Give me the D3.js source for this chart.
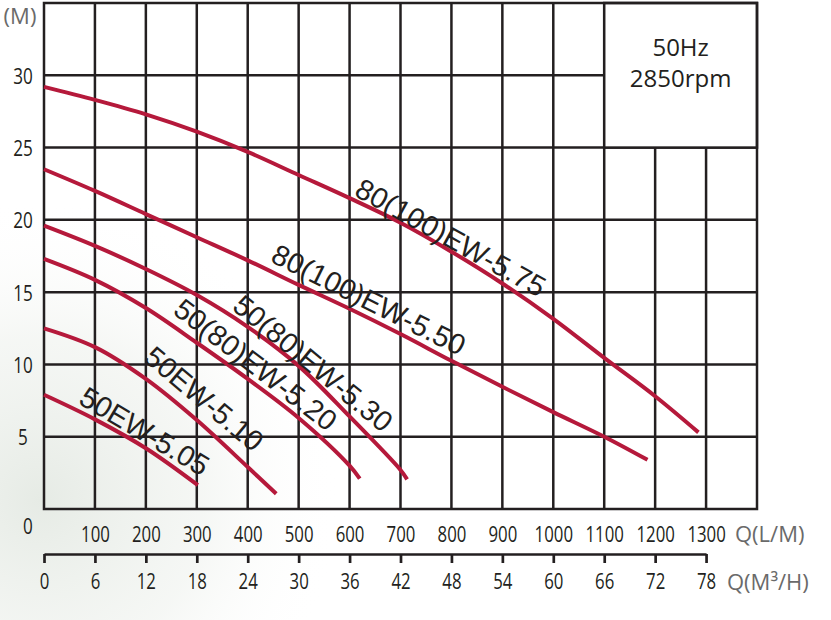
<!DOCTYPE html>
<html><head><meta charset="utf-8">
<script src="https://cdn.jsdelivr.net/npm/d3@7"></script>
<style>
html,body{margin:0;padding:0;background:#fff;}
svg{display:block;}
</style></head><body>
<svg id="chart" width="831" height="620"></svg>
<script>
// ---------- data ----------
const models = ["80(100)EW-5.75","80(100)EW-5.50","50(80)EW-5.30","50(80)EW-5.20","50EW-5.10","50EW-5.05"];
const flow575 = [0,100,200,300,400,500,600,700,800,900,1000,1100,1200,1285];
const head575 = [29.2,28.3,27.3,26.1,24.7,23.1,21.5,19.8,17.8,15.6,13.15,10.45,7.8,5.3];
const flow550 = [0,100,200,300,400,500,600,700,800,900,1000,1100,1185];
const head550 = [23.5,22.0,20.4,18.8,17.2,15.5,13.85,12.1,10.25,8.45,6.7,5.0,3.4];
const flow530 = [0,100,200,300,400,500,600,700,713];
const head530 = [19.6,18.2,16.6,14.8,12.6,9.9,6.4,2.7,2.05];
const flow520 = [0,100,200,300,400,500,600,620];
const head520 = [17.3,15.85,13.9,11.5,9.0,6.3,3.0,2.1];
const flow510 = [0,100,200,300,400,456];
const head510 = [12.5,11.2,9.0,6.15,2.9,1.05];
const flow505 = [0,100,200,302];
const head505 = [7.9,6.2,4.2,1.65];
const labelQ = [799,638,529,416,315,198];
const labelH = [18.8,14.5,10.1,10.0,7.65,5.4];
const labelAngle = [29,26.5,39.5,37.5,40,30.7];
const flowTicksLM = [100,200,300,400,500,600,700,800,900,1000,1100,1200,1300];
const flowTicksM3H = [0,6,12,18,24,30,36,42,48,54,60,66,72,78];
const headTicks = [5,10,15,20,25,30];
const gridQ = [100,200,300,400,500,600,700,800,900,1000,1100,1200,1300];
const gridH = [5,10,15,20,25,30];
const legendLines = ["50Hz","2850rpm"];
const unitHead = "(M)";
const unitLM = "Q(L/M)";
const unitM3H = "Q(M³/H)";

const flows = [flow575,flow550,flow530,flow520,flow510,flow505];
const heads = [head575,head550,head530,head520,head510,head505];
const series = models.map((m,i)=>({name:m, pts: flows[i].map((q,j)=>[q,heads[i][j]]), lq:labelQ[i], lh:labelH[i], ang:labelAngle[i]}));

// ---------- layout ----------
const ink = "#231f20", grey = "#6a6a6a", red = "#b5193b";
const svg = d3.select("#chart");
const x = d3.scaleLinear().domain([0,1400]).range([44,757]);
const y = d3.scaleLinear().domain([0,35]).range([509,3]);
const x2 = d3.scaleLinear().domain([0,78]).range([x(0), x(1300)]);

// background haze
const defs = svg.append("defs");
const rg = defs.append("radialGradient").attr("id","haze").attr("gradientUnits","userSpaceOnUse")
  .attr("cx",40).attr("cy",500).attr("r",300);
rg.append("stop").attr("offset","0%").attr("stop-color","#e6ebe5").attr("stop-opacity",1);
rg.append("stop").attr("offset","55%").attr("stop-color","#eff2ee").attr("stop-opacity",0.6);
rg.append("stop").attr("offset","100%").attr("stop-color","#ffffff").attr("stop-opacity",0);
svg.append("rect").attr("width",831).attr("height",620).attr("fill","#fff");
svg.append("rect").attr("width",831).attr("height",620).attr("fill","url(#haze)");

// grid
const g = svg.append("g");
g.selectAll("line.v").data(gridQ).join("line").attr("class","v")
  .attr("x1",d=>x(d)).attr("x2",d=>x(d)).attr("y1",y(0)).attr("y2",y(35))
  .attr("stroke",ink).attr("stroke-width",2.5);
g.selectAll("line.h").data(gridH).join("line").attr("class","h")
  .attr("y1",d=>y(d)).attr("y2",d=>y(d)).attr("x1",x(0)).attr("x2",x(1400))
  .attr("stroke",ink).attr("stroke-width",2.5);
// legend box
g.append("rect").attr("x",x(1100)).attr("y",y(35)).attr("width",x(1400)-x(1100)).attr("height",y(25)-y(35))
  .attr("fill","#fff").attr("stroke",ink).attr("stroke-width",2.5);
// border
g.append("rect").attr("x",x(0)).attr("y",y(35)).attr("width",x(1400)-x(0)).attr("height",y(0)-y(35))
  .attr("fill","none").attr("stroke",ink).attr("stroke-width",2.5);

// legend text
svg.append("g").selectAll("text").data(legendLines).join("text")
  .attr("x",(x(1100)+x(1400))/2).attr("y",(d,i)=>y(31.3)+i*31)
  .attr("text-anchor","middle").attr("font-family","'Open Sans', 'Noto Sans', sans-serif")
  .attr("font-size",24).attr("fill",ink).text(d=>d);

// curves
const line = d3.line().x(d=>x(d[0])).y(d=>y(d[1])).curve(d3.curveCatmullRom.alpha(0.5));
svg.append("g").selectAll("path").data(series).join("path")
  .attr("d",d=>line(d.pts)).attr("fill","none").attr("stroke",red).attr("stroke-width",4);

// curve labels
svg.append("g").selectAll("text").data(series).join("text")
  .attr("transform",d=>`translate(${x(d.lq)},${y(d.lh)}) rotate(${d.ang})`)
  .attr("text-anchor","middle").attr("dy","0.36em")
  .attr("font-family","'Liberation Sans', Arial, sans-serif").attr("font-size",29)
  .attr("fill",ink).text(d=>d.name);

const tickFont = "'Open Sans', 'Noto Sans', sans-serif";
function squeeze(sel, per){
  sel.selectAll("text").attr("textLength",function(){return this.textContent.length*per;})
    .attr("lengthAdjust","spacingAndGlyphs");
}

// Y axis labels
const ya = svg.append("g").attr("transform","translate(23,0)")
  .call(d3.axisLeft(y).tickValues(headTicks).tickSize(0).tickPadding(0));
ya.select(".domain").remove();
ya.selectAll("text").attr("text-anchor","middle").attr("x",0).attr("dy","0.36em")
  .attr("font-family",tickFont).attr("font-size",22).attr("fill",ink);
squeeze(ya,9.8);
svg.append("text").attr("x",28).attr("y",y(0)+17).attr("dy","0.36em").attr("text-anchor","middle")
  .attr("font-family",tickFont).attr("font-size",22).attr("fill",ink)
  .attr("textLength",9.8).attr("lengthAdjust","spacingAndGlyphs").text("0");
svg.append("text").attr("x",20).attr("y",24).attr("text-anchor","middle")
  .attr("font-family",tickFont).attr("font-size",22).attr("fill",grey).text(unitHead);

// X axis 1 (L/M)
const xa = svg.append("g").attr("transform",`translate(0,${y(0)})`)
  .call(d3.axisBottom(x).tickValues(flowTicksLM).tickSize(0).tickPadding(17).tickFormat(d3.format("d")));
xa.select(".domain").remove();
xa.selectAll("text").attr("font-family",tickFont).attr("font-size",22).attr("fill",ink);
squeeze(xa,9.6);
svg.append("text").attr("x",x(1400)-22).attr("y",542).attr("font-family",tickFont)
  .attr("font-size",22).attr("fill",grey).text(unitLM);

// X axis 2 (m3/h)
const xb = svg.append("g").attr("transform","translate(0,554)")
  .call(d3.axisBottom(x2).tickValues(flowTicksM3H).tickSizeInner(9).tickSizeOuter(0).tickPadding(10.5));
xb.select(".domain").attr("stroke",ink).attr("stroke-width",2.7);
xb.selectAll(".tick line").attr("stroke",ink).attr("stroke-width",2.7);
xb.selectAll("text").attr("font-family",tickFont).attr("font-size",22).attr("fill",ink);
squeeze(xb,9.6);
svg.append("text").attr("x",727).attr("y",590).attr("font-family",tickFont)
  .attr("font-size",22).attr("fill",grey).text(unitM3H);
</script>
</body></html>
